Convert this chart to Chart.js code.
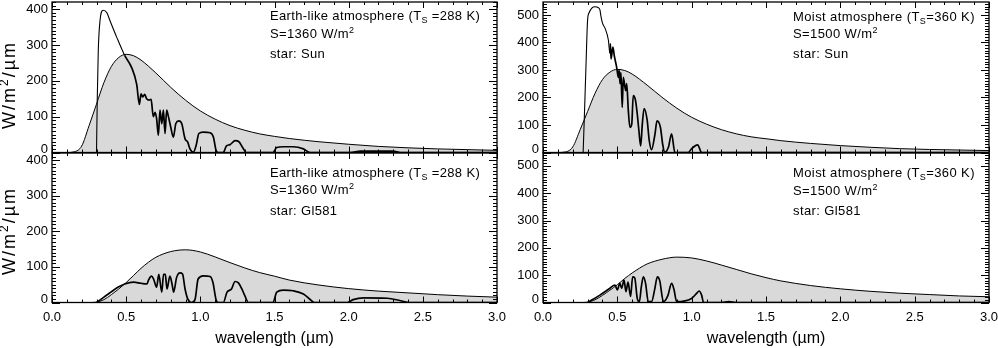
<!DOCTYPE html>
<html>
<head>
<meta charset="utf-8">
<script src="https://cdn.jsdelivr.net/npm/chart.js@4.4.1/dist/chart.umd.min.js"></script>
<style>
  html, body { margin: 0; padding: 0; background: #fff; }
  body { width: 998px; height: 348px; position: relative; overflow: hidden; }
  .panel { position: absolute; }
  .panel canvas { display: block; }
</style>
</head>
<body>
<div class="panel" style="left:0;top:0"><canvas id="tl" width="510" height="160"></canvas></div>
<div class="panel" style="left:0;top:150px"><canvas id="bl" width="510" height="198"></canvas></div>
<div class="panel" style="left:491px;top:0"><canvas id="tr" width="507" height="160"></canvas></div>
<div class="panel" style="left:491px;top:150px"><canvas id="br" width="507" height="198"></canvas></div>
<script>
const xTickLabels = ['0.0', '0.5', '1.0', '1.5', '2.0', '2.5', '3.0'];
const earthYTicks = ['0', '100', '200', '300', '400'];
const moistYTicks = ['0', '100', '200', '300', '400', '500'];

// stellar spectra (grey filled curves)
const sunBbX = [0.05, 0.1, 0.15, 0.2, 0.25, 0.3, 0.35, 0.4, 0.45, 0.5, 0.55, 0.6, 0.7, 0.8, 0.9, 1.0, 1.1, 1.2, 1.3, 1.4, 1.5, 1.6, 1.8, 2.0, 2.2, 2.4, 2.6, 2.8, 3.0];
const earthSunBb = [0, 0, 2, 18, 75, 135, 195, 240, 265, 274, 270, 258, 222, 182, 146, 116, 93, 75, 62, 52, 45, 39, 30, 23, 17, 13, 10, 8, 6];
const moistSunBb = [0, 0, 2, 20, 83, 149, 215, 265, 292, 302, 298, 285, 245, 201, 161, 128, 103, 83, 68, 57, 50, 43, 33, 25, 19, 14, 11, 9, 7];
const gl581BbX = [0.05, 0.1, 0.2, 0.25, 0.3, 0.35, 0.4, 0.45, 0.5, 0.55, 0.6, 0.65, 0.7, 0.8, 0.9, 1.0, 1.1, 1.2, 1.3, 1.4, 1.5, 1.6, 1.8, 2.0, 2.2, 2.4, 2.6, 2.8, 3.0];
const earthGlBb = [0, 0, 0, 0, 1, 8, 22, 38, 56, 76, 96, 113, 127, 143, 148, 142, 128, 112, 97, 84, 74, 63, 49, 39, 32, 27, 22, 18, 15];
const moistGlBb = [0, 0, 0, 0, 1, 10, 26, 45, 65, 88, 108, 126, 141, 158, 166, 163, 152, 137, 121, 105, 91, 79, 62, 50, 41, 34, 29, 24, 21];

// surface spectra (black lines)
const earthSunX = [0.300, 0.305, 0.312, 0.324, 0.345, 0.37, 0.39, 0.436, 0.49, 0.537, 0.571, 0.589, 0.600, 0.612, 0.625, 0.638, 0.654, 0.668, 0.683, 0.695, 0.705, 0.717, 0.728, 0.740, 0.751, 0.762, 0.773, 0.785, 0.800, 0.818, 0.835, 0.855, 0.875, 0.897, 0.915, 0.93, 0.953, 0.972, 0.99, 1.02, 1.066, 1.088, 1.106, 1.12, 1.155, 1.175, 1.2, 1.235, 1.26, 1.285, 1.31, 1.49, 1.515, 1.56, 1.627, 1.695, 1.74, 2.01, 2.08, 2.3, 2.35, 3.0];
const earthSunY = [0, 145, 285, 369, 397, 390, 369, 322, 271, 237, 190, 134, 164, 155, 162, 150, 146, 148, 100, 112, 95, 48, 118, 80, 118, 53, 118, 100, 72, 43, 81, 88, 80, 38, 29, 10, 1, 20, 53, 57, 55, 43, 6, 0, 0, 18, 22, 33, 30, 14, 0, 0, 14, 16, 16, 10, 0, 0, 4, 4, 0, 0];
const moistSunX = [0.27, 0.28, 0.29, 0.30, 0.31, 0.33, 0.35, 0.37, 0.383, 0.39, 0.40, 0.417, 0.44, 0.45, 0.453, 0.458, 0.47, 0.48, 0.495, 0.507, 0.512, 0.518, 0.524, 0.533, 0.54, 0.556, 0.563, 0.574, 0.585, 0.597, 0.607, 0.622, 0.634, 0.645, 0.657, 0.668, 0.68, 0.70, 0.715, 0.73, 0.753, 0.767, 0.79, 0.805, 0.818, 0.843, 0.865, 0.887, 0.977, 1.0, 1.04, 1.067, 3.0];
const moistSunY = [0, 160, 330, 482, 508, 526, 530, 527, 518, 495, 470, 452, 408, 360, 395, 340, 383, 350, 311, 273, 300, 250, 290, 164, 273, 225, 250, 152, 91, 103, 207, 190, 140, 80, 24, 103, 160, 120, 42, 10, 66, 115, 91, 30, 0, 18, 68, 0, 0, 14, 28, 0, 0];
const earthGlX = [0.30, 0.35, 0.41, 0.45, 0.49, 0.55, 0.60, 0.64, 0.65, 0.67, 0.685, 0.705, 0.72, 0.74, 0.752, 0.764, 0.775, 0.795, 0.81, 0.82, 0.84, 0.863, 0.88, 0.897, 0.915, 0.94, 0.964, 0.985, 1.02, 1.066, 1.085, 1.106, 1.12, 1.155, 1.18, 1.21, 1.234, 1.257, 1.28, 1.30, 1.324, 1.49, 1.515, 1.56, 1.627, 1.695, 1.75, 1.77, 1.99, 2.03, 2.1, 2.26, 2.35, 2.41, 3.0];
const earthGlY = [0, 15, 33, 44, 52, 57, 54, 52, 62, 74, 66, 43, 79, 29, 79, 79, 38, 74, 50, 29, 70, 83, 80, 38, 10, 0, 8, 66, 75, 73, 56, 8, 0, 0, 29, 38, 59, 55, 38, 19, 0, 0, 29, 35, 33, 24, 5, 0, 0, 8, 13, 12, 5, 0, 0];
const moistGlX = [0.30, 0.383, 0.45, 0.484, 0.50, 0.517, 0.529, 0.545, 0.558, 0.572, 0.589, 0.603, 0.617, 0.634, 0.648, 0.662, 0.675, 0.69, 0.708, 0.73, 0.752, 0.769, 0.785, 0.81, 0.84, 0.865, 0.88, 0.899, 0.999, 1.033, 1.05, 1.067, 1.08, 1.2, 1.25, 1.3, 3.0];
const moistGlY = [0, 27, 52, 64, 46, 70, 52, 82, 40, 75, 22, 94, 90, 15, 3, 60, 94, 70, 3, 3, 50, 94, 80, 3, 25, 70, 50, 3, 15, 33, 42, 27, 0, 0, 3, 0, 0];

Chart.defaults.font.family = "'Liberation Sans', Arial, sans-serif";
Chart.defaults.color = '#000';

const FONT = "'Liberation Sans', Arial, sans-serif";

function pts(xs, ys) {
  return xs.map((x, i) => ({ x: x, y: ys[i] }));
}

// draw text pieces, with small raised/lowered parts
function rich(ctx, x, y, parts, size, small) {
  for (const [t, k] of parts) {
    ctx.font = (k ? small : size) + 'px ' + FONT;
    const dy = k === 'sub' ? 3 : k === 'sup' ? -5 : 0;
    ctx.fillText(t, x, y + dy);
    x += ctx.measureText(t).width;
  }
}
function richWidth(ctx, parts, size, small) {
  let w = 0;
  for (const [t, k] of parts) {
    ctx.font = (k ? small : size) + 'px ' + FONT;
    w += ctx.measureText(t).width;
  }
  return w;
}

// IDL-style frame: box with inward ticks on all four sides, notes, y title
function idlFrame(o) {
  return {
    id: 'idlFrame',
    afterDraw(chart) {
      const { ctx, chartArea: a, scales: { x, y } } = chart;
      ctx.save();
      ctx.strokeStyle = '#000';
      ctx.lineWidth = 1.3;
      ctx.strokeRect(a.left, a.top, a.right - a.left, a.bottom - a.top);
      ctx.lineWidth = 1;
      ctx.beginPath();
      for (let i = 0; i <= 30; i++) {
        const px = Math.round(x.getPixelForValue(i / 10)) + 0.5;
        const len = i % 5 ? 3 : 6;
        ctx.moveTo(px, a.bottom); ctx.lineTo(px, a.bottom - len);
        ctx.moveTo(px, a.top); ctx.lineTo(px, a.top + len);
      }
      for (let v = 0; v <= y.max; v += 10) {
        const py = Math.round(y.getPixelForValue(v)) + 0.5;
        const len = v % 100 ? 4 : 8;
        ctx.moveTo(a.left, py); ctx.lineTo(a.left + len, py);
        ctx.moveTo(a.right, py); ctx.lineTo(a.right - len, py);
      }
      ctx.stroke();

      ctx.fillStyle = '#000';
      ctx.textBaseline = 'alphabetic';
      ctx.textAlign = 'left';
      ctx.letterSpacing = o.spacing + 'px';
      o.notes.forEach((parts, i) => {
        rich(ctx, a.left + o.noteX, a.top + o.noteDy[i], parts, 13, 9);
      });

      if (o.titleDy) {
        const t = [['W/m', ''], ['2', 'sup'], ['/µm', '']];
        ctx.letterSpacing = '2px';
        ctx.translate(10, a.top + o.titleDy);
        ctx.rotate(-Math.PI / 2);
        ctx.textBaseline = 'middle';
        const w = richWidth(ctx, t, 18, 12);
        rich(ctx, -w / 2, 0, t, 18, 12);
      }
      ctx.restore();
    }
  };
}

function panel(id, o) {
  new Chart(document.getElementById(id), {
    type: 'line',
    data: {
      datasets: [
        {
          data: pts(o.lineX, o.lineY),
          borderColor: '#000', borderWidth: 1.7, pointRadius: 0, fill: false,
          order: 0, cubicInterpolationMode: 'monotone',
          segment: { borderWidth: c => (c.p1.parsed.x <= o.thinUntil ? 1.1 : 1.7) }
        },
        {
          data: pts(o.bbX, o.bbY),
          borderColor: '#000', borderWidth: 1, backgroundColor: '#d9d9d9',
          fill: 'origin', pointRadius: 0, order: 1, cubicInterpolationMode: 'monotone'
        }
      ]
    },
    options: {
      responsive: false,
      animation: false,
      events: [],
      layout: { padding: o.pad },
      plugins: { legend: { display: false }, tooltip: { enabled: false } },
      scales: {
        x: {
          type: 'linear', min: 0, max: 3,
          grid: { display: false, drawTicks: false }, border: { display: false },
          ticks: {
            display: o.showX, stepSize: 0.5, padding: 7.5, maxRotation: 0, autoSkip: false,
            font: { size: 13 },
            callback: v => xTickLabels[Math.round(v * 2)]
          },
          title: { display: o.showX, text: 'wavelength (µm)', font: { size: 16 }, padding: 0 },
          afterFit: s => { s.height = o.xH; s.paddingLeft = 0; s.paddingRight = 0; }
        },
        y: {
          type: 'linear', min: 0, max: o.yMax,
          grid: { display: false, drawTicks: false }, border: { display: false },
          ticks: {
            stepSize: 100, includeBounds: false, padding: 4,
            font: c => (c.tick && c.tick.value === 0 ? { size: 13, lineHeight: 0.55 } : { size: 13 }),
            callback: v => {
              const lab = o.yTicks[Math.round(v / 100)];
              return v === 0 ? [lab, ''] : lab;
            }
          },
          afterFit: s => { s.width = 52; s.paddingTop = 0; s.paddingBottom = 0; }
        }
      }
    },
    plugins: [idlFrame(o)]
  });
}

panel('tl', {
  lineX: earthSunX, lineY: earthSunY, bbX: sunBbX, bbY: earthSunBb,
  yMax: 420, yTicks: earthYTicks, thinUntil: 0.49, showX: false, xH: 0,
  pad: { left: 0, top: 2, right: 13, bottom: 7.5 },
  noteX: 218, noteDy: [18, 36, 56], titleDy: 83, spacing: 0.35,
  notes: [
    [['Earth-like atmosphere (T', ''], ['S', 'sub'], [' =288 K)', '']],
    [['S=1360 W/m', ''], ['2', 'sup']],
    [['star: Sun', '']]
  ]
});
panel('bl', {
  lineX: earthGlX, lineY: earthGlY, bbX: gl581BbX, bbY: earthGlBb,
  yMax: 420, yTicks: earthYTicks, thinUntil: 0, showX: true, xH: 45.5,
  pad: { left: 0, top: 3, right: 13, bottom: 0 },
  noteX: 218, noteDy: [23.5, 41, 61.5], titleDy: 78, spacing: 0.35,
  notes: [
    [['Earth-like atmosphere (T', ''], ['S', 'sub'], [' =288 K)', '']],
    [['S=1360 W/m', ''], ['2', 'sup']],
    [['star: Gl581', '']]
  ]
});
panel('tr', {
  lineX: moistSunX, lineY: moistSunY, bbX: sunBbX, bbY: moistSunBb,
  yMax: 547, yTicks: moistYTicks, thinUntil: 0.45, showX: false, xH: 0,
  pad: { left: 0, top: 2, right: 9, bottom: 7.5 },
  noteX: 250, noteDy: [18.5, 36, 56], titleDy: 0, spacing: 0.4,
  notes: [
    [['Moist atmosphere (T', ''], ['S', 'sub'], ['=360 K)', '']],
    [['S=1500 W/m', ''], ['2', 'sup']],
    [['star: Sun', '']]
  ]
});
panel('br', {
  lineX: moistGlX, lineY: moistGlY, bbX: gl581BbX, bbY: moistGlBb,
  yMax: 547, yTicks: moistYTicks, thinUntil: 0, showX: true, xH: 45.5,
  pad: { left: 0, top: 3, right: 9, bottom: 0 },
  noteX: 250, noteDy: [24, 41.5, 62], titleDy: 0, spacing: 0.4,
  notes: [
    [['Moist atmosphere (T', ''], ['S', 'sub'], ['=360 K)', '']],
    [['S=1500 W/m', ''], ['2', 'sup']],
    [['star: Gl581', '']]
  ]
});
</script>
</body>
</html>
